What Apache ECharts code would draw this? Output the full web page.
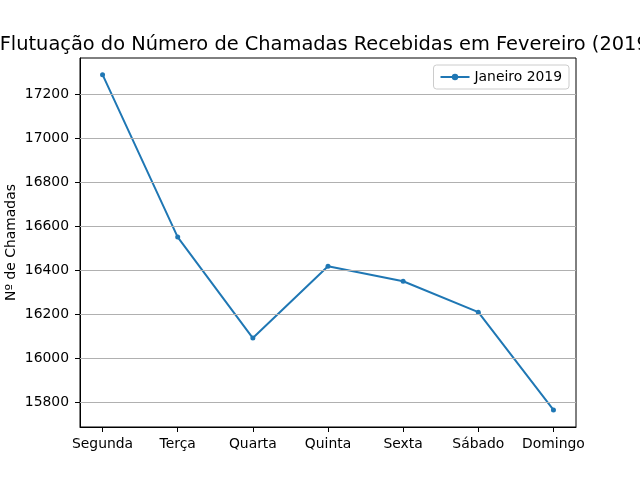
<!DOCTYPE html>
<html>
<head>
    <meta charset="utf-8">
    <title>Chamadas Fevereiro 2019</title>
    <script src="https://cdn.jsdelivr.net/npm/echarts@6/dist/echarts.min.js"></script>
    <style>
        html, body { margin: 0; padding: 0; background: #fff; }
        #chart { width: 640px; height: 480px; }
    </style>
</head>
<body>
<div id="chart"></div>
<script>
    // dados
    var dias = ['Segunda', 'Terça', 'Quarta', 'Quinta', 'Sexta', 'Sábado', 'Domingo'];
    var chamadas = [17291, 16551, 16091, 16418, 16350, 16209, 15764];
    var yTicks = [15800, 16000, 16200, 16400, 16600, 16800, 17000, 17200];
    var xTicks = [0, 1, 2, 3, 4, 5, 6];

    var font = 'DejaVu Sans';
    var pontos = chamadas.map(function (v, i) { return [i, v]; });

    var chart = echarts.init(document.getElementById('chart'));
    var option = {
        animation: false,
        title: {
            text: 'Flutuação do Número de Chamadas Recebidas em Fevereiro (2019)',
            left: 323,
            top: 30,
            textAlign: 'center',
            textStyle: { fontFamily: font, fontSize: 19.4, fontWeight: 'normal', color: '#000' }
        },
        legend: {
            data: ['Janeiro 2019'],
            right: 71,
            top: 65,
            orient: 'vertical',
            itemWidth: 29,
            itemHeight: 8,
            itemGap: 6,
            padding: [5, 7, 5, 6],
            borderColor: '#cccccc',
            borderWidth: 1,
            borderRadius: 3,
            textStyle: { fontFamily: font, fontSize: 13.9, color: '#000' }
        },
        grid: {
            left: 80, right: 64, top: 58, bottom: 53,
            outerBoundsMode: 'none',
            containLabel: false,
            show: true, borderColor: '#000', borderWidth: 1
        },
        xAxis: {
            type: 'value',
            min: -0.3,
            max: 6.3,
            axisLine: { onZero: false, lineStyle: { color: '#000', width: 1 } },
            axisTick: { show: true, length: 5, customValues: xTicks, lineStyle: { color: '#000' } },
            axisLabel: {
                customValues: xTicks,
                margin: 10,
                fontFamily: font, fontSize: 13.9, color: '#000',
                formatter: function (v) { return dias[Math.round(v)]; }
            },
            splitLine: { show: false }
        },
        yAxis: {
            type: 'value',
            min: 15686,
            max: 17367,
            name: 'Nº de Chamadas',
            nameLocation: 'middle',
            nameGap: 61.5,
            nameMoveOverlap: false,
            nameTextStyle: { fontFamily: font, fontSize: 13.9, color: '#000' },
            axisLine: { show: true, onZero: false, lineStyle: { color: '#000', width: 1 } },
            axisTick: { show: true, length: 5, customValues: yTicks, lineStyle: { color: '#000' } },
            axisLabel: {
                customValues: yTicks,
                margin: 11,
                fontFamily: font, fontSize: 13.9, color: '#000',
                formatter: function (v) { return String(v); }
            },
            splitLine: { show: false }
        },
        series: [{
            name: 'Janeiro 2019',
            type: 'line',
            data: pontos,
            color: '#1f77b4',
            symbol: 'circle',
            symbolSize: 5,
            lineStyle: { width: 2 },
            markLine: {
                silent: true,
                symbol: 'none',
                label: { show: false },
                lineStyle: { color: '#b0b0b0', width: 1, type: 'solid' },
                data: yTicks.map(function (t) { return { yAxis: t }; })
            },
            z: 3
        }]
    };
    chart.setOption(option);
</script>
</body>
</html>
